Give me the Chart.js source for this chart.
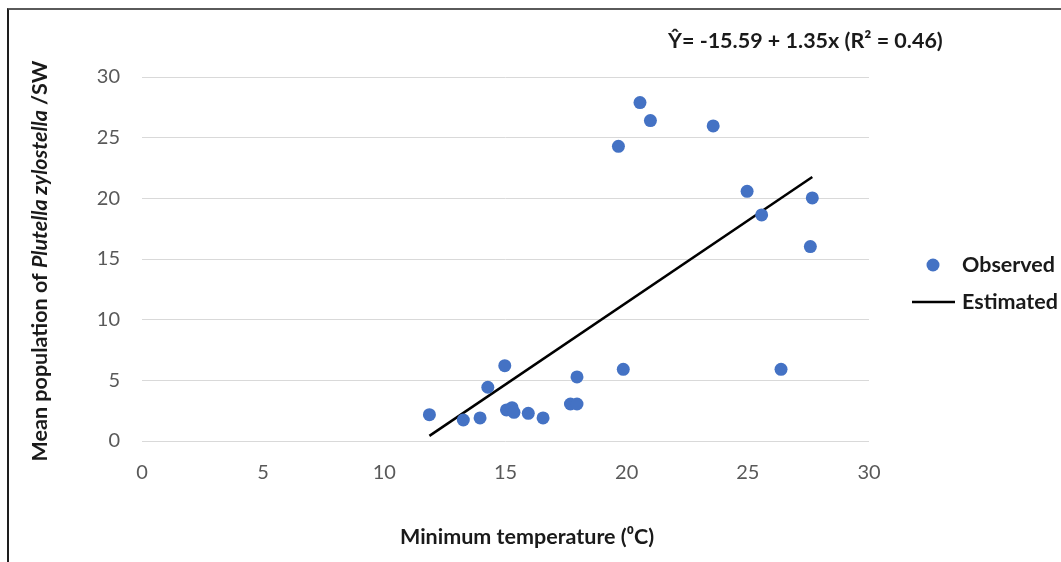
<!DOCTYPE html>
<html>
<head>
<meta charset="utf-8">
<script src="https://cdn.jsdelivr.net/npm/chart.js@4.4.1/dist/chart.umd.min.js"></script>
<style>
  html, body { margin: 0; padding: 0; background: #fff; }
  #wrap { position: relative; width: 1061px; height: 562px; }
  #frame {
    position: absolute; left: 7px; top: 8px; right: 0; bottom: 0;
    border-top: 2px solid #5a5a5a; border-left: 2px solid #1e1e1e;
    pointer-events: none;
  }
</style>
</head>
<body>
<div id="wrap">
  <canvas id="tempChart" width="1061" height="562"></canvas>
  <div id="frame"></div>
</div>
<script>
// minimum temperature (°C) and mean Plutella count per sample
const minTemp = [11.86, 13.26, 13.95, 14.27, 14.97, 15.04, 15.27, 15.35, 15.94, 16.55,
                 17.68, 17.95, 17.95, 19.66, 19.86, 20.55, 20.98, 23.57, 24.97, 25.57,
                 26.37, 27.58, 27.66];
const meanPop = [2.17, 1.73, 1.90, 4.43, 6.21, 2.56, 2.75, 2.36, 2.28, 1.90,
                 3.05, 3.05, 5.28, 24.29, 5.91, 27.89, 26.41, 25.97, 20.58, 18.63,
                 5.91, 16.02, 20.03];

// fitted regression
const intercept = -15.59;
const slope = 1.35;
const rSquared = 0.46;

const axisTicks = [0, 5, 10, 15, 20, 25, 30];

const observed = minTemp.map((x, i) => ({ x: x, y: meanPop[i] }));
const xMin = Math.min(...minTemp);
const xMax = Math.max(...minTemp);
const estimated = [xMin, xMax].map((x) => ({ x: x, y: intercept + slope * x }));

const FONT = 'Lato, "Open Sans", sans-serif';
const BOLD = 'bold 21.5px ' + FONT;
Chart.defaults.font.family = FONT;

// equation, axis titles (italic species name) and legend
const extras = {
  id: 'extras',
  afterDraw(chart) {
    const ctx = chart.ctx;
    const area = chart.chartArea;
    ctx.save();
    ctx.fillStyle = '#1a1a1a';
    ctx.textBaseline = 'middle';
    ctx.textAlign = 'left';

    ctx.font = BOLD;
    ctx.fillText('Ŷ= ' + intercept.toFixed(2) + ' + ' + slope.toFixed(2) + 'x (R² = ' + rSquared.toFixed(2) + ')', 668, 41);

    ctx.textAlign = 'center';
    ctx.fillText('Minimum temperature (⁰C)', 527, 537);
    ctx.textAlign = 'left';

    // rotated y-axis title
    const parts = [
      ['Mean population of ', BOLD],
      ['Plutella zylostella', 'italic ' + BOLD],
      [' /SW', BOLD]
    ];
    let total = 0;
    parts.forEach((p) => { ctx.font = p[1]; total += ctx.measureText(p[0]).width; });
    ctx.translate(40, (area.top + area.bottom) / 2 + 2);
    ctx.rotate(-Math.PI / 2);
    let x = -total / 2;
    parts.forEach((p) => {
      ctx.font = p[1];
      ctx.fillText(p[0], x, 0);
      x += ctx.measureText(p[0]).width;
    });
    ctx.restore();

    // legend
    ctx.save();
    const ds = chart.data.datasets;
    ctx.fillStyle = ds[0].backgroundColor;
    ctx.beginPath();
    ctx.arc(933, 265, 6.5, 0, Math.PI * 2);
    ctx.fill();
    ctx.strokeStyle = ds[1].borderColor;
    ctx.lineWidth = ds[1].borderWidth;
    ctx.beginPath();
    ctx.moveTo(912, 302);
    ctx.lineTo(955, 302);
    ctx.stroke();
    ctx.fillStyle = '#1a1a1a';
    ctx.font = BOLD;
    ctx.textBaseline = 'middle';
    ctx.fillText(ds[0].label, 962, 265);
    ctx.fillText(ds[1].label, 962, 302);
    ctx.restore();
  }
};

new Chart(document.getElementById('tempChart'), {
  type: 'scatter',
  data: {
    datasets: [
      {
        label: 'Observed',
        data: observed,
        backgroundColor: '#4472C4',
        borderColor: '#4472C4',
        borderWidth: 0,
        pointRadius: 6.5,
        pointHoverRadius: 6.5
      },
      {
        label: 'Estimated',
        type: 'line',
        data: estimated,
        borderColor: '#000000',
        borderWidth: 2.5,
        pointRadius: 0,
        fill: false
      }
    ]
  },
  options: {
    responsive: false,
    animation: false,
    layout: { padding: { top: 77, right: 192, left: 0, bottom: 0 } },
    plugins: {
      legend: { display: false },
      tooltip: { enabled: false }
    },
    scales: {
      x: {
        type: 'linear',
        min: 0,
        max: 30,
        afterBuildTicks: (scale) => { scale.ticks = axisTicks.map((v) => ({ value: v })); },
        afterFit: (scale) => { scale.height = 121; },
        grid: { display: false, drawTicks: false },
        border: { display: false },
        ticks: { color: '#595959', font: { size: 20 }, padding: 20 }
      },
      y: {
        type: 'linear',
        min: 0,
        max: 30,
        afterBuildTicks: (scale) => { scale.ticks = axisTicks.map((v) => ({ value: v })); },
        afterFit: (scale) => { scale.width = 142; },
        grid: { color: '#d9d9d9', lineWidth: 1, drawTicks: false },
        border: { display: false },
        ticks: { color: '#595959', font: { size: 20 }, padding: 22 }
      }
    }
  },
  plugins: [extras]
});
</script>
</body>
</html>
